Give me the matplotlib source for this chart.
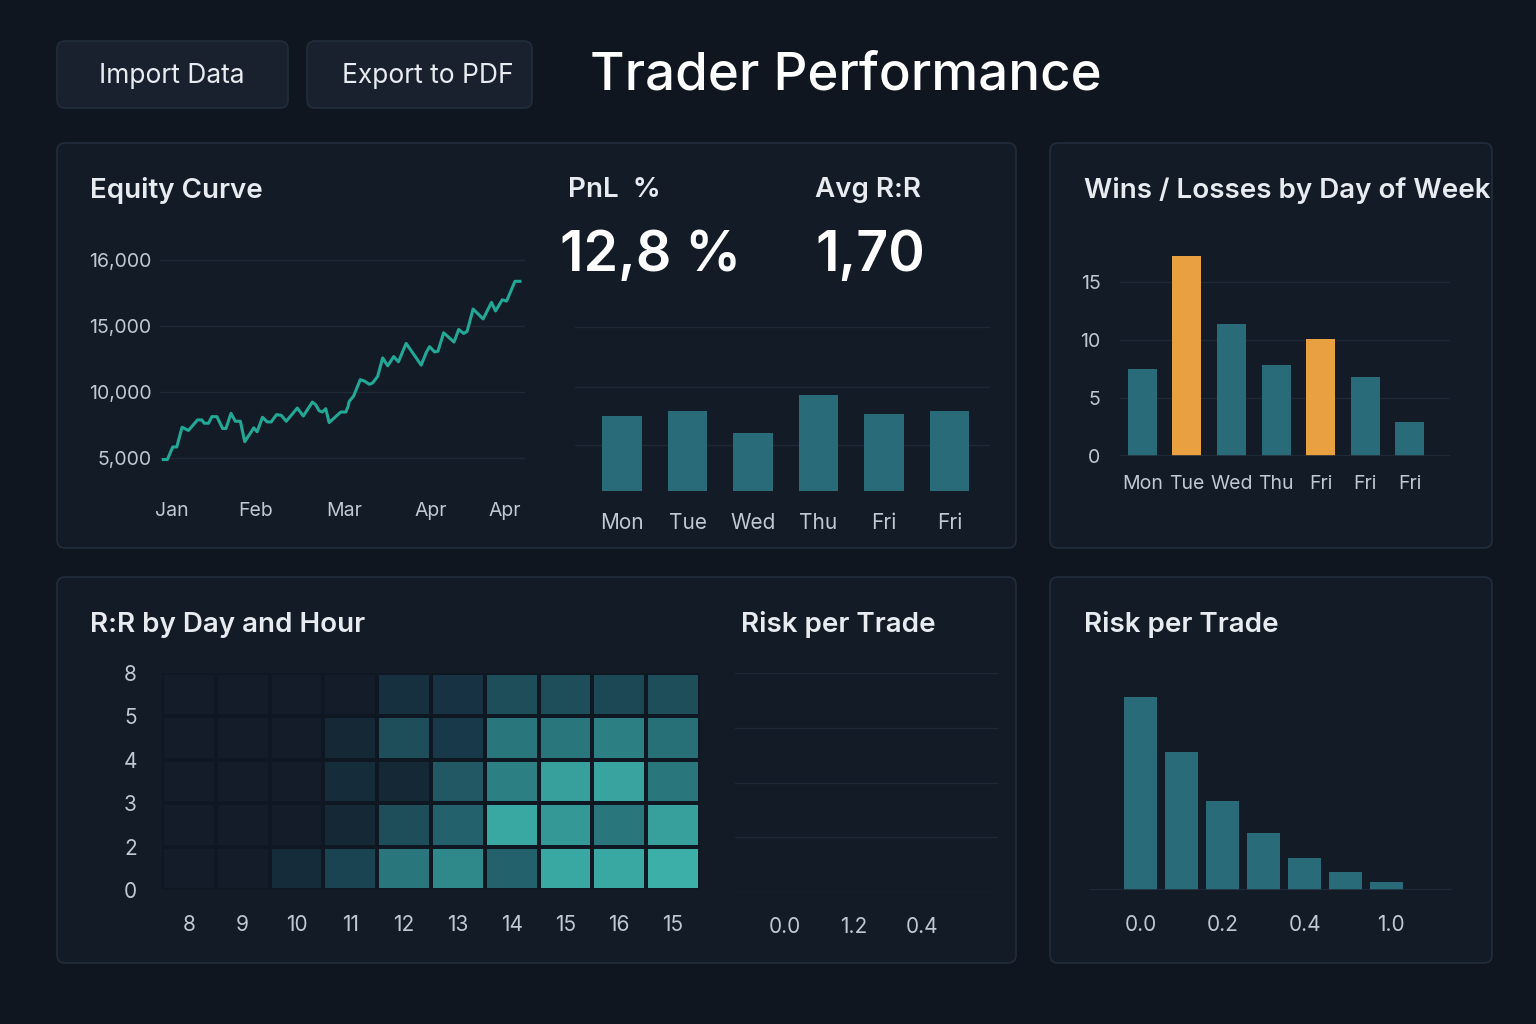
import matplotlib.pyplot as plt
import numpy as np
from matplotlib.patches import FancyBboxPatch
from matplotlib.colors import LinearSegmentedColormap

plt.rcParams['font.family'] = ['Inter', 'DejaVu Sans']

# --- data ---
eq_day = [0, 1.2, 2.8, 4, 5.6, 7.5, 10.2, 11.5, 12.2, 13.5, 14.5, 16, 17.7, 18.7, 20.2, 21.5, 23, 24.3,
          27, 28, 29.6, 31, 32.2, 33.8, 35.2, 36.7, 40, 41.8, 44.5, 45.5, 46.5, 47.5, 48.5, 49.5, 53,
          54.5, 55.2, 55.5, 56.8, 58.8, 60, 61.5, 62.5, 64, 65.5, 67, 68.8, 70.2, 72.5, 77, 78.5, 79.5,
          81, 82, 83.7, 86.8, 88.2, 89.7, 90.7, 92.5, 95.5, 98, 99.2, 101.2, 102.5, 105, 106.5]
eq_level = [-0.02, -0.02, 0.17, 0.17, 0.47, 0.42, 0.58, 0.58, 0.53, 0.53, 0.63, 0.63, 0.45, 0.45,
            0.68, 0.56, 0.56, 0.25, 0.46, 0.40, 0.62, 0.55, 0.55, 0.66, 0.65, 0.56, 0.76, 0.64, 0.85,
            0.81, 0.72, 0.70, 0.75, 0.54, 0.70, 0.70, 0.79, 0.86, 0.94, 1.19, 1.17, 1.12, 1.14, 1.24,
            1.52, 1.40, 1.54, 1.46, 1.74, 1.41, 1.60, 1.69, 1.61, 1.62, 1.90, 1.76, 1.95, 1.89, 1.92,
            2.26, 2.11, 2.36, 2.23, 2.40, 2.38, 2.68, 2.68]
eq_ytick_labels = ['5,000', '10,000', '15,000', '16,000']
eq_month_pos = [2.5, 27.5, 54, 80, 102]
eq_month_labels = ['Jan', 'Feb', 'Mar', 'Apr', 'Apr']

pnl_days = ['Mon', 'Tue', 'Wed', 'Thu', 'Fri', 'Fri']
pnl_vals = [7.5, 8.0, 5.8, 9.6, 7.7, 8.0]

wl_days = ['Mon', 'Tue', 'Wed', 'Thu', 'Fri', 'Fri', 'Fri']
wl_vals = [7.5, 17.2, 11.4, 7.8, 10.1, 6.8, 2.9]
wl_highlight = [False, True, False, False, True, False, False]

hm_hours = ['8', '9', '10', '11', '12', '13', '14', '15', '16', '15']
hm_ylabels = ['0', '2', '3', '4', '5', '8']
hm_vals = [  # bottom row first
    [0, 0, 0.2, 0.4, 0.65, 0.75, 0.55, 0.95, 0.95, 1.0],
    [0, 0, 0, 0.15, 0.45, 0.55, 0.95, 0.85, 0.65, 0.9],
    [0, 0, 0, 0.2, 0.15, 0.5, 0.7, 0.9, 0.92, 0.65],
    [0, 0, 0, 0.15, 0.45, 0.35, 0.65, 0.65, 0.7, 0.62],
    [0, 0, 0, 0, 0.25, 0.3, 0.45, 0.45, 0.42, 0.45],
]

risk_mid_ticks = ['0.0', '1.2', '0.4']
risk_vals = [19.3, 13.8, 8.9, 5.7, 3.2, 1.8, 0.8]
risk_ticks = ['0.0', '0.2', '0.4', '1.0']

BG = '#0f1620'
CARD = '#131b27'
EDGE = '#222d3b'
TEAL = '#2a6b7a'
ORANGE = '#e8a040'
LINE = '#22a895'
TXT = '#e8ecf0'
TICK = '#c0c8d2'
GRID = '#1e2836'

W, H = 1536, 1024
fig = plt.figure(figsize=(W / 100, H / 100), dpi=100, facecolor=BG)
bg = fig.add_axes([0, 0, 1, 1])
bg.set_xlim(0, W)
bg.set_ylim(H, 0)
bg.axis('off')


def box(x0, y0, x1, y1, fc=CARD, r=8):
    bg.add_patch(FancyBboxPatch((x0, y0), x1 - x0, y1 - y0, boxstyle=f'round,pad=0,rounding_size={r}',
                                fc=fc, ec=EDGE, lw=1.2))


def px_axes(x0, y0, x1, y1):
    ax = fig.add_axes([x0 / W, 1 - y1 / H, (x1 - x0) / W, (y1 - y0) / H])
    ax.set_facecolor('none')
    for s in ax.spines.values():
        s.set_visible(False)
    ax.tick_params(colors=TICK, labelsize=14, length=0)
    return ax


box(57, 41, 288, 108, fc='#18212d')
box(307, 41, 532, 108, fc='#18212d')
bg.text(172, 76, 'Import Data', color=TXT, fontsize=19, ha='center', va='center')
bg.text(428, 76, 'Export to PDF', color=TXT, fontsize=19, ha='center', va='center')
bg.text(590, 76, 'Trader Performance', color='white', fontsize=38, ha='left', va='center', fontweight='medium')

box(57, 143, 1016, 548)
box(1050, 143, 1492, 548)
box(57, 577, 1016, 963)
box(1050, 577, 1492, 963)

bg.text(90, 190, 'Equity Curve', color=TXT, fontsize=20, fontweight='semibold', va='center')
bg.text(568, 190, 'PnL  %', color=TXT, fontsize=20, fontweight='semibold', va='center')
bg.text(815, 190, 'Avg R:R', color=TXT, fontsize=20, fontweight='semibold', va='center')
bg.text(560, 256, '12,8 %', color='white', fontsize=40, fontweight='semibold', va='center')
bg.text(815, 256, '1,70', color='white', fontsize=40, fontweight='semibold', va='center')
t = bg.text(1084, 190, 'Wins / Losses by Day of Week', color=TXT, fontsize=20, fontweight='semibold', va='center')
t.set_clip_path(FancyBboxPatch((1050, 143), 420, 405, boxstyle='square,pad=0', transform=bg.transData))
bg.text(90, 625, 'R:R by Day and Hour', color=TXT, fontsize=20, fontweight='semibold', va='center')
bg.text(741, 625, 'Risk per Trade', color=TXT, fontsize=20, fontweight='semibold', va='center')
bg.text(1084, 625, 'Risk per Trade', color=TXT, fontsize=20, fontweight='semibold', va='center')

# equity curve
ax = px_axes(160, 245, 525, 480)
ax.plot(eq_day, eq_level, color=LINE, lw=2.2)
ax.set_ylim(-0.33, 3.23)
ax.set_xlim(-1, 108)
ax.set_yticks(range(4), eq_ytick_labels)
ax.set_xticks(eq_month_pos, eq_month_labels)
ax.grid(axis='y', color=GRID, lw=1)
ax.tick_params(axis='y', pad=6)
ax.tick_params(axis='x', pad=16)

# pnl bars
ax = px_axes(575, 320, 990, 491)
ax.bar(range(len(pnl_vals)), pnl_vals, width=0.6, color=TEAL, zorder=2)
ax.set_ylim(0, 17.1)
ax.set_xlim(-0.72, 5.62)
ax.set_yticks([4.6, 10.4, 16.4], [])
ax.grid(axis='y', color=GRID, lw=1)
ax.set_xticks(range(len(pnl_days)), pnl_days)
ax.tick_params(axis='x', pad=16, labelsize=15)

# wins / losses
ax = px_axes(1120, 240, 1450, 456)
ax.bar(range(len(wl_vals)), wl_vals, width=0.65,
       color=[ORANGE if h else TEAL for h in wl_highlight], zorder=2)
ax.set_ylim(0, 18.6)
ax.set_xlim(-0.5, 6.9)
ax.set_yticks([0, 5, 10, 15])
ax.grid(axis='y', color=GRID, lw=1)
ax.axhline(0, color=EDGE, lw=1.2)
ax.set_xticks(range(len(wl_days)), wl_days)
ax.tick_params(axis='x', pad=14, labelsize=14)
ax.tick_params(axis='y', pad=14)

# heatmap
ax = px_axes(162, 673, 700, 890)
cmap = LinearSegmentedColormap.from_list('rr', ['#131c28', '#173646', '#2a7a80', '#3cb0a8'])
ax.pcolormesh(np.array(hm_vals), cmap=cmap, vmin=0, vmax=1, edgecolors='#0f1822', linewidth=1.5)
ax.set_xlim(0, 10)
ax.set_ylim(0, 5)
ax.set_xticks(np.arange(10) + 0.5, hm_hours)
ax.set_yticks(range(6), hm_ylabels)
ax.tick_params(axis='x', pad=18, labelsize=15)
ax.tick_params(axis='y', pad=18, labelsize=15)

# risk per trade (empty)
ax = px_axes(735, 673, 998, 892)
ax.set_ylim(0, 4)
ax.set_xlim(0, 1)
ax.set_yticks([0, 1, 2, 3, 4], [])
ax.grid(axis='y', color=GRID, lw=1)
ax.set_xticks([0.19, 0.45, 0.71], risk_mid_ticks)
ax.tick_params(axis='x', pad=18, labelsize=15)

# risk per trade histogram
ax = px_axes(1090, 680, 1452, 890)
ax.bar(range(len(risk_vals)), risk_vals, width=0.8, color=TEAL, zorder=2)
ax.axhline(0, color=EDGE, lw=1.2)
ax.set_xlim(-1.24, 7.6)
ax.set_ylim(0, 21)
ax.set_yticks([])
ax.set_xticks([0, 2, 4, 6.1], risk_ticks)
ax.tick_params(axis='x', pad=18, labelsize=15)

fig.savefig('out.png', dpi=100, facecolor=BG)
